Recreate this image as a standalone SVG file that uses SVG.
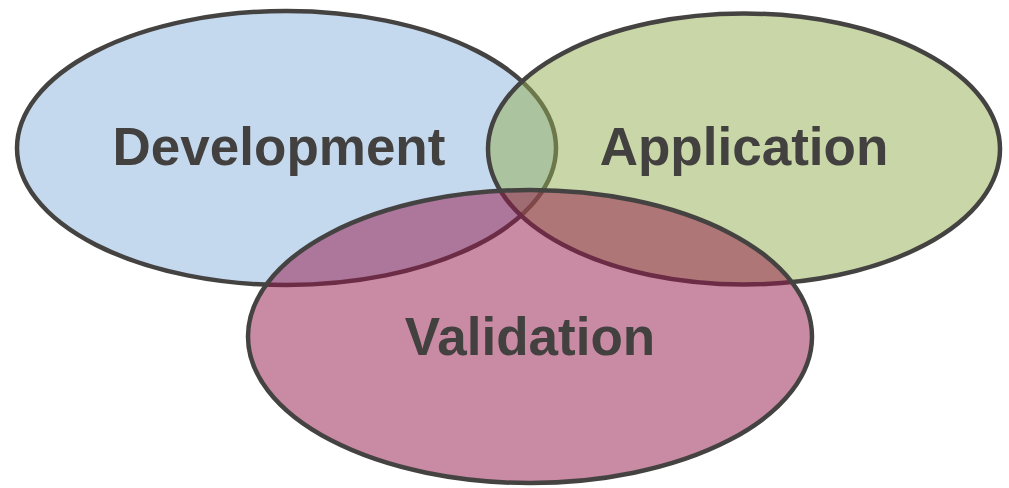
<svg xmlns="http://www.w3.org/2000/svg" width="1009" height="488" viewBox="0 0 1009 488">
  <style>
    .set { stroke: #444342; stroke-width: 4.5; }
    .label { font-family: "Liberation Sans", Arial, sans-serif; font-weight: bold; font-size: 53px; fill: #434140; text-anchor: middle; }
  </style>
  <rect width="1009" height="488" fill="#ffffff"/>
  <g id="development">
    <ellipse class="set" cx="286.5" cy="148" rx="269.5" ry="137" fill="#c5d9ee"/>
  </g>
  <g id="application">
    <ellipse class="set" cx="744" cy="149" rx="256" ry="135.5" fill="#93ad4f" fill-opacity="0.5"/>
  </g>
  <g id="validation">
    <ellipse class="set" cx="530" cy="336.5" rx="282" ry="146.5" fill="#931547" fill-opacity="0.5"/>
  </g>
  <g id="labels">
    <text class="label" x="279" y="165">Development</text>
    <text class="label" x="744" y="165">Application</text>
    <text class="label" x="530" y="355">Validation</text>
  </g>
  <g id="connectors"/>
</svg>
